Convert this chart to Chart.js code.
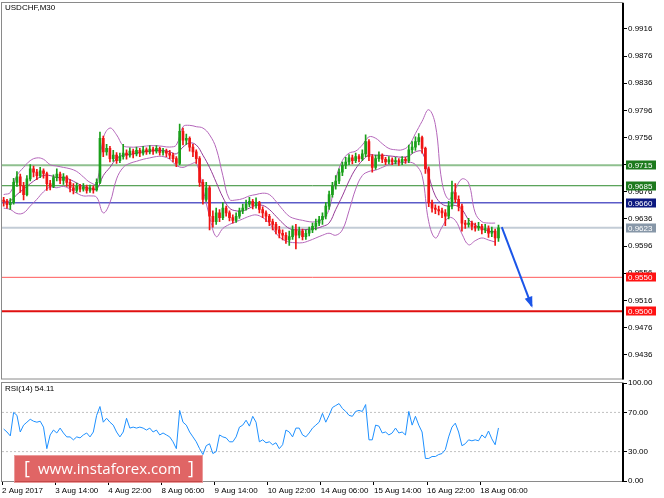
<!DOCTYPE html>
<html><head><meta charset="utf-8">
<script src="https://cdn.jsdelivr.net/npm/chart.js@4"></script>
<style>
html,body{margin:0;padding:0;background:#fff;overflow:hidden}
#wrap{position:relative;width:664px;height:498px;background:#fff}
canvas{position:absolute;left:0}
#main{top:0}
#rsi{top:371px}
</style></head><body>
<div id="wrap"><canvas id="main" width="664" height="381"></canvas><canvas id="rsi" width="664" height="127"></canvas></div>
<script>
// ---------- DATA ----------
const symbolTitle = 'USDCHF,M30';
const rsiTitle = 'RSI(14) 54.11';
const timeLabels = ['2 Aug 2017','3 Aug 14:00','4 Aug 22:00','8 Aug 06:00','9 Aug 14:00','10 Aug 22:00','14 Aug 06:00','15 Aug 14:00','16 Aug 22:00','18 Aug 06:00'];
const barsPerLabel = 64;      // M30 bars between time labels
const totalBars = 748;        // bars that fit across the window
const firstBar = 2;
const barsPerCandle = 4;

const priceTicks = [0.9436,0.9476,0.9516,0.9556,0.9596,0.9636,0.9676,0.9716,0.9756,0.9796,0.9836,0.9876,0.9916];
const priceMin = 0.94009, priceMax = 0.99543;

const firstOpen = 0.9664;
const closes = [
0.9662,0.9657,0.9660,0.9690,0.9698,0.9685,0.9672,0.9695,0.9710,0.9705,
0.9700,0.9707,0.9703,0.9688,0.9684,0.9697,0.9702,0.9693,0.9698,0.9690,
0.9682,0.9678,0.9684,0.9680,0.9683,0.9678,0.9682,0.9679,0.9690,0.9755,
0.9735,0.9740,0.9725,0.9730,0.9722,0.9728,0.9733,0.9730,0.9736,0.9732,
0.9737,0.9733,0.9738,0.9735,0.9739,0.9736,0.9740,0.9734,0.9736,0.9733,
0.9730,0.9725,0.9718,0.9765,0.9752,0.9755,0.9742,0.9735,0.9725,0.9690,
0.9665,0.9682,0.9640,0.9632,0.9645,0.9638,0.9652,0.9645,0.9638,0.9634,
0.9640,0.9648,0.9652,0.9658,0.9662,0.9656,0.9660,0.9650,0.9645,0.9640,
0.9632,0.9628,0.9620,0.9615,0.9612,0.9605,0.9610,0.9620,0.9612,0.9618,
0.9610,0.9615,0.9620,0.9625,0.9630,0.9635,0.9640,0.9655,0.9672,0.9685,
0.9692,0.9705,0.9715,0.9720,0.9726,0.9722,0.9728,0.9725,0.9732,0.9750,
0.9728,0.9712,0.9725,0.9730,0.9724,0.9720,0.9723,0.9720,0.9722,0.9720,
0.9724,0.9722,0.9738,0.9742,0.9750,0.9756,0.9740,0.9710,0.9660,0.9652,
0.9650,0.9648,0.9645,0.9640,0.9655,0.9675,0.9665,0.9655,0.9630,0.9628,
0.9630,0.9625,0.9623,0.9625,0.9620,0.9622,0.9615,0.9618,0.9608,0.9623];
const highs = [
0.9668,0.9665,0.9666,0.9696,0.9706,0.9702,0.9690,0.9700,0.9716,0.9714,
0.9709,0.9712,0.9710,0.9705,0.9693,0.9701,0.9710,0.9705,0.9703,0.9700,
0.9694,0.9688,0.9689,0.9687,0.9688,0.9686,0.9686,0.9685,0.9695,0.9764,
0.9758,0.9746,0.9743,0.9737,0.9734,0.9733,0.9746,0.9738,0.9741,0.9739,
0.9742,0.9740,0.9743,0.9741,0.9744,0.9742,0.9744,0.9742,0.9740,0.9739,
0.9737,0.9733,0.9728,0.9776,0.9770,0.9761,0.9757,0.9746,0.9738,0.9728,
0.9694,0.9690,0.9685,0.9648,0.9652,0.9650,0.9660,0.9655,0.9648,0.9642,
0.9645,0.9652,0.9658,0.9664,0.9668,0.9665,0.9667,0.9662,0.9654,0.9648,
0.9643,0.9636,0.9631,0.9625,0.9620,0.9616,0.9618,0.9626,0.9628,0.9624,
0.9621,0.9620,0.9624,0.9630,0.9636,0.9640,0.9645,0.9660,0.9677,0.9690,
0.9700,0.9710,0.9720,0.9727,0.9731,0.9730,0.9733,0.9731,0.9738,0.9760,
0.9753,0.9731,0.9730,0.9735,0.9732,0.9727,0.9728,0.9726,0.9727,0.9725,
0.9728,0.9727,0.9745,0.9750,0.9757,0.9762,0.9758,0.9742,0.9713,0.9664,
0.9657,0.9655,0.9652,0.9650,0.9662,0.9692,0.9688,0.9670,0.9658,0.9634,
0.9637,0.9633,0.9630,0.9631,0.9628,0.9628,0.9626,0.9624,0.9621,0.9627];
const lows = [
0.9655,0.9652,0.9650,0.9658,0.9684,0.9675,0.9664,0.9670,0.9692,0.9698,
0.9694,0.9697,0.9696,0.9678,0.9679,0.9682,0.9692,0.9688,0.9687,0.9684,
0.9676,0.9673,0.9675,0.9676,0.9677,0.9674,0.9675,0.9674,0.9677,0.9688,
0.9728,0.9730,0.9720,0.9721,0.9718,0.9719,0.9724,0.9724,0.9727,0.9726,
0.9729,0.9728,0.9730,0.9731,0.9732,0.9731,0.9733,0.9730,0.9730,0.9728,
0.9725,0.9720,0.9713,0.9716,0.9745,0.9746,0.9736,0.9728,0.9718,0.9684,
0.9658,0.9662,0.9620,0.9624,0.9628,0.9632,0.9635,0.9640,0.9633,0.9630,
0.9631,0.9637,0.9644,0.9649,0.9654,0.9651,0.9652,0.9645,0.9638,0.9632,
0.9626,0.9620,0.9614,0.9608,0.9605,0.9600,0.9597,0.9606,0.9592,0.9608,
0.9605,0.9606,0.9611,0.9616,0.9620,0.9626,0.9628,0.9636,0.9650,0.9668,
0.9680,0.9688,0.9700,0.9710,0.9716,0.9717,0.9719,0.9720,0.9722,0.9728,
0.9722,0.9705,0.9709,0.9721,0.9719,0.9716,0.9717,0.9716,0.9717,0.9715,
0.9716,0.9718,0.9719,0.9733,0.9737,0.9745,0.9733,0.9703,0.9654,0.9646,
0.9644,0.9642,0.9638,0.9626,0.9636,0.9651,0.9660,0.9648,0.9618,0.9622,
0.9624,0.9620,0.9618,0.9619,0.9614,0.9616,0.9609,0.9610,0.9597,0.9603];

// Bollinger bands, one value every 2 candles
const bandUpper = [
0.9672,0.9675,0.9700,0.9712,0.9722,0.9726,0.9724,0.9716,0.9714,0.9712,
0.9710,0.9706,0.9698,0.9690,0.9688,0.9755,0.9770,0.9760,0.9744,0.9742,
0.9742,0.9743,0.9744,0.9744,0.9743,0.9742,0.9745,0.9772,0.9774,0.9772,
0.9770,0.9760,0.9740,0.9700,0.9665,0.9664,0.9666,0.9670,0.9672,0.9674,
0.9672,0.9662,0.9650,0.9640,0.9636,0.9634,0.9632,0.9632,0.9636,0.9650,
0.9695,0.9722,0.9733,0.9736,0.9745,0.9757,0.9755,0.9747,0.9740,0.9738,
0.9738,0.9744,0.9762,0.9780,0.9797,0.9775,0.9690,0.9665,0.9680,0.9695,
0.9689,0.9645,0.9632,0.9630,0.9630];
const bandMiddle = [
0.9662,0.9663,0.9672,0.9680,0.9688,0.9695,0.9700,0.9700,0.9697,0.9697,
0.9694,0.9689,0.9684,0.9681,0.9680,0.9700,0.9712,0.9725,0.9730,0.9731,
0.9733,0.9735,0.9736,0.9737,0.9737,0.9735,0.9732,0.9742,0.9748,0.9745,
0.9730,0.9712,0.9690,0.9668,0.9652,0.9648,0.9648,0.9652,0.9656,0.9656,
0.9650,0.9640,0.9630,0.9622,0.9620,0.9620,0.9621,0.9622,0.9625,0.9630,
0.9650,0.9670,0.9692,0.9710,0.9722,0.9730,0.9730,0.9730,0.9729,0.9728,
0.9727,0.9729,0.9735,0.9735,0.9700,0.9670,0.9658,0.9655,0.9656,0.9650,
0.9635,0.9627,0.9622,0.9618,0.9617];
const bandLower = [
0.9652,0.9650,0.9644,0.9645,0.9655,0.9665,0.9676,0.9683,0.9682,0.9684,
0.9680,0.9674,0.9670,0.9670,0.9668,0.9645,0.9660,0.9695,0.9712,0.9718,
0.9721,0.9724,0.9726,0.9728,0.9728,0.9724,0.9715,0.9712,0.9716,0.9718,
0.9680,0.9640,0.9610,0.9622,0.9628,0.9632,0.9636,0.9640,0.9642,0.9638,
0.9630,0.9615,0.9606,0.9602,0.9601,0.9601,0.9604,0.9608,0.9612,0.9615,
0.9612,0.9620,0.9648,0.9680,0.9700,0.9706,0.9708,0.9712,0.9716,0.9718,
0.9719,0.9720,0.9716,0.9700,0.9632,0.9608,0.9624,0.9638,0.9634,0.9614,
0.9598,0.9604,0.9608,0.9605,0.9602];

const rsiValues = [
53,50,46,70,67,50,57,60,63,61,
60,61,55,33,47,52,49,54,49,45,
45,42,45,44,47,49,45,50,67,76,
60,64,60,57,50,45,50,64,54,55,
54,55,54,52,54,50,52,47,49,47,
45,40,33,72,60,57,50,45,40,33,
27,36,38,28,30,47,45,44,40,40,
45,55,57,62,56,66,60,40,42,39,
40,37,39,33,37,52,50,45,54,54,
47,45,49,54,57,60,69,60,67,75,
77,79,74,71,67,66,71,72,71,78,
42,42,57,56,49,50,47,49,54,49,
50,47,71,57,66,57,50,23,23,25,
25,27,28,32,45,55,59,50,36,38,
42,41,42,41,47,44,51,43,37,54.11];
const rsiLevels = [70, 30];
const rsiTicks = [0, 30, 70, 100];

const levelValues = [0.9715, 0.9685, 0.9660, 0.9623, 0.9550, 0.9500];
const arrowBars = [602, 638];
const arrowPrices = [0.9624, 0.9508];
const watermarkText = 'www.instaforex.com';

// ---------- STYLE ----------
const FONT = '"Liberation Sans", Arial, sans-serif';
const upColor = '#1aa01a', downColor = '#f01414';
const levelLineColors = ['#8fc08f', '#2e8b2e', '#5b5bc8', '#c3ccd6', '#ff5a5a', '#e01010'];
const levelWidths = [2, 1, 1.5, 2, 1, 2];
const levelBoxColors = ['#1d7a1d', '#1d7a1d', '#0c1880', '#8797a8', '#ff1212', '#ff1212'];

const candleBar = i => firstBar + barsPerCandle * i;
const opens = closes.map((c, i) => i === 0 ? firstOpen : closes[i - 1]);
const candleColors = closes.map((c, i) => c >= opens[i] ? upColor : downColor);

const line = (data, color, width, order, extra) => Object.assign({
  type: 'line', data, borderColor: color, borderWidth: width, pointRadius: 0,
  fill: false, order, clip: false
}, extra || {});

const mainDatasets = [
  { type: 'bar', data: closes.map((c, i) => ({ x: candleBar(i), y: [lows[i], highs[i]] })),
    backgroundColor: candleColors, barThickness: 1, grouped: false, order: 2 },
  { type: 'bar', data: closes.map((c, i) => ({ x: candleBar(i), y: [opens[i], c] })),
    backgroundColor: candleColors, barThickness: 2, minBarLength: 1, grouped: false, order: 1 },
  line(bandUpper.map((v, k) => ({ x: candleBar(2 * k), y: v })), '#b466ba', 1, 3, { tension: 0.4 }),
  line(bandMiddle.map((v, k) => ({ x: candleBar(2 * k), y: v })), '#963a96', 1, 3, { tension: 0.4 }),
  line(bandLower.map((v, k) => ({ x: candleBar(2 * k), y: v })), '#b466ba', 1, 3, { tension: 0.4 }),
  ...levelValues.map((v, j) => line([{ x: 0, y: v }, { x: totalBars, y: v }], levelLineColors[j], levelWidths[j], 5)),
  line([{ x: arrowBars[0], y: arrowPrices[0] }, { x: arrowBars[1], y: arrowPrices[1] }], '#1b55e8', 2, 0)
];
const arrowIndex = mainDatasets.length - 1;

const fitRight = s => { s.width = 41; s.paddingTop = 0; s.paddingBottom = 0; };

const mainPlugin = {
  id: 'mainDeco',
  afterDraw(chart) {
    const { ctx, chartArea: a, scales: { y } } = chart;
    ctx.save();
    ctx.strokeStyle = '#8a8a8a'; ctx.lineWidth = 1;
    ctx.strokeRect(1.5, a.top - 0.5, a.right - 1.5, a.bottom - a.top + 1);
    ctx.strokeStyle = '#000'; ctx.lineWidth = 2;
    ctx.beginPath(); ctx.moveTo(a.right, a.top); ctx.lineTo(a.right, a.bottom + 1); ctx.stroke();
    ctx.fillStyle = '#000'; ctx.font = '8px ' + FONT; ctx.textBaseline = 'middle'; ctx.textAlign = 'left';
    ctx.fillText(symbolTitle, 5, 8);
    levelValues.forEach((v, j) => {
      const py = Math.round(y.getPixelForValue(v));
      ctx.fillStyle = levelBoxColors[j];
      ctx.fillRect(626, py - 4.5, 30, 9);
      ctx.fillStyle = '#fff';
      ctx.fillText(v.toFixed(4), 628, py + 0.5);
    });
    const pts = chart.getDatasetMeta(arrowIndex).data;
    const p0 = pts[0], p1 = pts[1];
    const ang = Math.atan2(p1.y - p0.y, p1.x - p0.x);
    const L = 9, W = 4;
    ctx.fillStyle = '#1b55e8';
    ctx.beginPath();
    ctx.moveTo(p1.x + Math.cos(ang) * 2, p1.y + Math.sin(ang) * 2);
    ctx.lineTo(p1.x - Math.cos(ang) * L + Math.sin(ang) * W, p1.y - Math.sin(ang) * L - Math.cos(ang) * W);
    ctx.lineTo(p1.x - Math.cos(ang) * L - Math.sin(ang) * W, p1.y - Math.sin(ang) * L + Math.cos(ang) * W);
    ctx.closePath(); ctx.fill();
    ctx.restore();
  }
};

new Chart(document.getElementById('main'), {
  type: 'bar',
  data: { datasets: mainDatasets },
  options: {
    responsive: false, animation: false, devicePixelRatio: 1, events: [],
    layout: { padding: { left: 2, top: 3, right: 0, bottom: 2.5 } },
    plugins: { legend: { display: false }, tooltip: { enabled: false } },
    scales: {
      x: { type: 'linear', display: false, min: 0, max: totalBars, offset: false, grid: { offset: false } },
      y: {
        type: 'linear', position: 'right', min: priceMin, max: priceMax,
        afterBuildTicks: s => { s.ticks = priceTicks.map(v => ({ value: v })); },
        afterFit: fitRight,
        ticks: { autoSkip: false, padding: 1, color: '#000', font: { size: 8, family: FONT },
          callback: v => Number(v).toFixed(4) },
        grid: { drawOnChartArea: false, drawTicks: true, tickLength: 4, color: '#000' },
        border: { display: false }
      }
    }
  },
  plugins: [mainPlugin]
});

// ---------- RSI ----------
const rsiPlugin = {
  id: 'rsiDeco',
  afterDraw(chart) {
    const { ctx, chartArea: a } = chart;
    ctx.save();
    ctx.strokeStyle = '#8a8a8a'; ctx.lineWidth = 1;
    ctx.strokeRect(1.5, a.top - 0.5, a.right - 1.5, a.bottom - a.top + 1);
    ctx.strokeStyle = '#000'; ctx.lineWidth = 2;
    ctx.beginPath(); ctx.moveTo(a.right, a.top); ctx.lineTo(a.right, a.bottom + 1); ctx.stroke();
    ctx.fillStyle = '#000'; ctx.font = '8px ' + FONT; ctx.textBaseline = 'middle'; ctx.textAlign = 'left';
    ctx.fillText(rsiTitle, 5, a.top + 6);
    // watermark
    const bx = 14, by = a.top + 72, bw = 189, bh = 28;
    ctx.fillStyle = 'rgba(214, 52, 52, 0.76)';
    ctx.fillRect(bx, by, bw, bh);
    ctx.strokeStyle = 'rgba(255,255,255,0.35)'; ctx.lineWidth = 1;
    ctx.strokeRect(bx + 0.5, by + 0.5, bw - 1, bh - 1);
    ctx.fillStyle = '#fff';
    let fs = 17;
    ctx.font = fs + 'px "Open Sans", ' + FONT;
    while (ctx.measureText(watermarkText).width > 146 && fs > 8) { fs -= 0.5; ctx.font = fs + 'px "Open Sans", ' + FONT; }
    ctx.textBaseline = 'middle';
    ctx.font = '18px "Open Sans", ' + FONT;
    ctx.fillText('[', bx + 10, by + bh / 2);
    ctx.fillText(']', bx + bw - 15, by + bh / 2);
    ctx.font = fs + 'px "Open Sans", ' + FONT;
    ctx.fillText(watermarkText, bx + 24, by + bh / 2 + 1);
    ctx.restore();
  }
};

new Chart(document.getElementById('rsi'), {
  type: 'line',
  data: { datasets: [
    line(rsiValues.map((v, i) => ({ x: candleBar(i), y: v })), '#1e90ff', 1, 1),
    ...rsiLevels.map(v => line([{ x: 0, y: v }, { x: totalBars, y: v }], '#c0c0c0', 1, 2, { borderDash: [2, 2] }))
  ] },
  options: {
    responsive: false, animation: false, devicePixelRatio: 1, events: [],
    layout: { padding: { left: 2, top: 12, right: 0, bottom: 0 } },
    plugins: { legend: { display: false }, tooltip: { enabled: false } },
    scales: {
      x: {
        type: 'linear', min: 0, max: totalBars, offset: false,
        afterBuildTicks: s => { s.ticks = timeLabels.map((t, k) => ({ value: k * barsPerLabel })); },
        afterFit: s => { s.height = 17; s.paddingLeft = 0; s.paddingRight = 0; },
        ticks: { autoSkip: false, maxRotation: 0, minRotation: 0, align: 'start', padding: 1,
          color: '#000', font: { size: 8, family: FONT },
          callback: (v, idx) => timeLabels[idx] },
        grid: { drawOnChartArea: false, drawTicks: true, tickLength: 4, color: '#000', offset: false },
        border: { display: false }
      },
      y: {
        type: 'linear', position: 'right', min: 0, max: 100,
        afterBuildTicks: s => { s.ticks = rsiTicks.map(v => ({ value: v })); },
        afterFit: fitRight,
        ticks: { autoSkip: false, padding: 1, color: '#000', font: { size: 8, family: FONT },
          callback: v => Number(v).toFixed(2) },
        grid: { drawOnChartArea: false, drawTicks: true, tickLength: 4, color: '#000' },
        border: { display: false }
      }
    }
  },
  plugins: [rsiPlugin]
});
</script>
</body></html>
